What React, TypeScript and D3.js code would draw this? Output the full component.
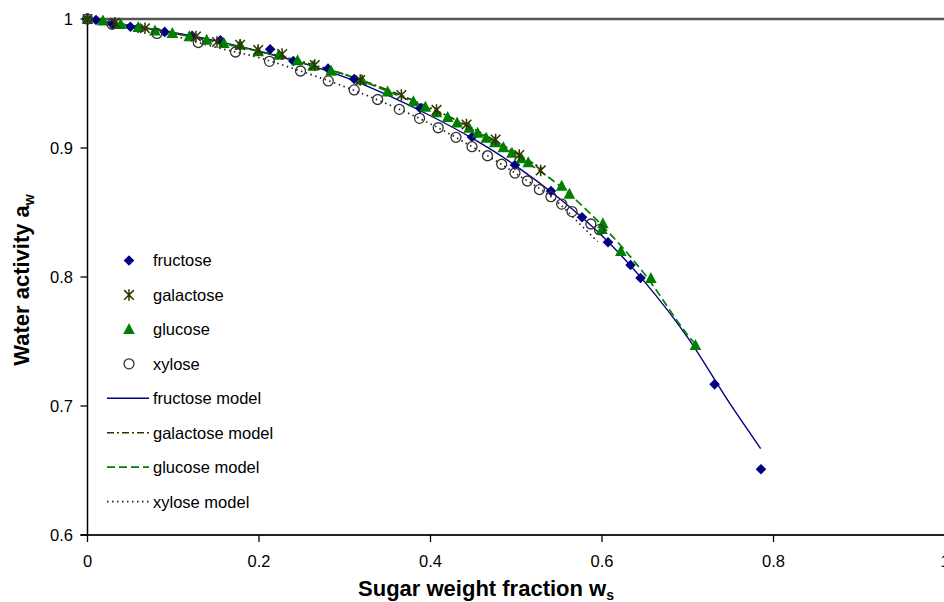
import React from "react";
import * as d3 from "d3";

// ---------- data ----------
const fructose: [number, number][] = [
  [0, 1.0], [0.01, 0.9992], [0.029, 0.996], [0.05, 0.994], [0.059, 0.993],
  [0.09, 0.990], [0.122, 0.987], [0.155, 0.9835], [0.213, 0.9765], [0.24, 0.9675],
  [0.2805, 0.9615], [0.311, 0.9535], [0.388, 0.9308], [0.4484, 0.9085], [0.4985, 0.8868],
  [0.5405, 0.8667], [0.5767, 0.8463], [0.607, 0.8269], [0.6333, 0.8093], [0.6449, 0.7992],
  [0.7313, 0.7168], [0.7854, 0.651],
];
const galactose: [number, number][] = [
  [0, 1.0], [0.032, 0.997], [0.067, 0.9928], [0.1265, 0.9864], [0.151, 0.9822],
  [0.178, 0.98], [0.199, 0.976], [0.227, 0.9729], [0.265, 0.9643], [0.318, 0.9527],
  [0.366, 0.9411], [0.407, 0.9295], [0.442, 0.9182], [0.476, 0.9066], [0.5035, 0.8946],
  [0.5285, 0.8826],
];
const glucose: [number, number][] = [
  [0, 1.0], [0.018, 0.9987], [0.0387, 0.9959], [0.0592, 0.9936], [0.0787, 0.9909],
  [0.0989, 0.9889], [0.1187, 0.9863], [0.139, 0.9837], [0.159, 0.9812], [0.178, 0.9798],
  [0.199, 0.9747], [0.223, 0.9721], [0.245, 0.9678], [0.263, 0.9636], [0.284, 0.9597],
  [0.32, 0.9527], [0.35, 0.9436], [0.38, 0.936], [0.394, 0.9318], [0.407, 0.9274],
  [0.42, 0.9238], [0.431, 0.9196], [0.445, 0.9155], [0.455, 0.9116], [0.465, 0.9078],
  [0.475, 0.9043], [0.485, 0.9004], [0.495, 0.8961], [0.506, 0.8919], [0.514, 0.8888],
  [0.553, 0.8705], [0.562, 0.8643], [0.601, 0.8415], [0.600, 0.837], [0.622, 0.820],
  [0.657, 0.799], [0.709, 0.747],
];
const xylose: [number, number][] = [
  [0, 1.0], [0.0286, 0.9959], [0.081, 0.9888], [0.1292, 0.9818], [0.1726, 0.9744],
  [0.2122, 0.9672], [0.2484, 0.9597], [0.2808, 0.952], [0.311, 0.945], [0.3384, 0.9376],
  [0.3636, 0.93], [0.3872, 0.923], [0.409, 0.9157], [0.4297, 0.9083], [0.4484, 0.901],
  [0.4665, 0.894], [0.483, 0.8874], [0.4985, 0.8806], [0.513, 0.8744], [0.527, 0.8678],
  [0.5405, 0.8623], [0.553, 0.8565], [0.565, 0.8507], [0.587, 0.8411], [0.597, 0.8367],
];

const fructoseModel: [number, number][] = [
  [0, 1.0], [0.05, 0.995], [0.1, 0.9895], [0.15, 0.983], [0.2, 0.975], [0.25, 0.966],
  [0.3, 0.955], [0.35, 0.941], [0.4, 0.925], [0.45, 0.907], [0.5, 0.886], [0.55, 0.861],
  [0.6, 0.832], [0.65, 0.796], [0.7, 0.753], [0.75, 0.701], [0.785, 0.667],
];
const galactoseModel: [number, number][] = [
  [0, 1.0], [0.05, 0.995], [0.1, 0.989], [0.15, 0.982], [0.2, 0.975], [0.25, 0.967],
  [0.3, 0.957], [0.35, 0.945], [0.4, 0.931], [0.45, 0.915], [0.5, 0.896], [0.53, 0.884],
];
const glucoseModel: [number, number][] = [
  [0, 1.0], [0.05, 0.995], [0.1, 0.989], [0.15, 0.982], [0.2, 0.975], [0.25, 0.966],
  [0.3, 0.957], [0.35, 0.944], [0.4, 0.93], [0.45, 0.914], [0.5, 0.894], [0.55, 0.871],
  [0.6, 0.840], [0.65, 0.802], [0.7, 0.755], [0.71, 0.747],
];
const xyloseModel: [number, number][] = [
  [0, 1.0], [0.05, 0.994], [0.1, 0.987], [0.15, 0.978], [0.2, 0.97], [0.25, 0.9593],
  [0.3, 0.9475], [0.35, 0.934], [0.4, 0.9187], [0.45, 0.9005], [0.5, 0.88], [0.55, 0.857],
  [0.575, 0.8405], [0.595, 0.8274],
];

const xTicks = [0, 0.2, 0.4, 0.6, 0.8, 1];
const xTickLabels = ["0", "0.2", "0.4", "0.6", "0.8", "1"];
const yTicks = [0.6, 0.7, 0.8, 0.9, 1];
const yTickLabels = ["0.6", "0.7", "0.8", "0.9", "1"];
const legendLabels = [
  "fructose", "galactose", "glucose", "xylose",
  "fructose model", "galactose model", "glucose model", "xylose model",
];

// ---------- styles ----------
const NAVY = "#000080";
const OLIVE = "#333300";
const GREEN = "#008000";
const GREY = "#333333";
const FONT = "Arial, 'Liberation Sans', sans-serif";

const x = d3.scaleLinear().domain([0, 1]).range([87.5, 945]);
const y = d3.scaleLinear().domain([0.6, 1]).range([535, 19]);

const line = d3
  .line<[number, number]>()
  .x((d) => x(d[0]))
  .y((d) => y(d[1]))
  .curve(d3.curveMonotoneX);

const Diamond = ({ cx, cy }: { cx: number; cy: number }) => (
  <path d={`M${cx},${cy - 5.3}L${cx + 5.3},${cy}L${cx},${cy + 5.3}L${cx - 5.3},${cy}Z`} fill={NAVY} />
);
const Triangle = ({ cx, cy }: { cx: number; cy: number }) => (
  <path d={`M${cx},${cy - 6.3}L${cx + 5.8},${cy + 4.7}L${cx - 5.8},${cy + 4.7}Z`} fill={GREEN} />
);
const Star = ({ cx, cy }: { cx: number; cy: number }) => (
  <path
    d={`M${cx - 4.8},${cy - 4.8}L${cx + 4.8},${cy + 4.8}M${cx + 4.8},${cy - 4.8}L${cx - 4.8},${cy + 4.8}M${cx},${cy - 5.8}L${cx},${cy + 5.8}`}
    stroke={OLIVE}
    strokeWidth={1.5}
    fill="none"
  />
);
const Circle = ({ cx, cy }: { cx: number; cy: number }) => (
  <circle cx={cx} cy={cy} r={5} fill="none" stroke={GREY} strokeWidth={1.3} />
);

const lineStyles = [
  { stroke: NAVY, dash: undefined as string | undefined, width: 1.4 },
  { stroke: OLIVE, dash: "7,3,2,3", width: 1.7 },
  { stroke: GREEN, dash: "8,4", width: 1.7 },
  { stroke: "#222222", dash: "1.5,3.5", width: 1.7 },
];
const models = [fructoseModel, galactoseModel, glucoseModel, xyloseModel];

export default function App() {
  const legendY = (i: number) => 260.5 + i * 34.45;
  return (
    <svg
      width={944}
      height={602}
      style={{ position: "absolute", left: 0, top: 0, display: "block", background: "#fff" }}
      fontFamily={FONT}
    >
      <rect x={0} y={0} width={944} height={602} fill="#fff" />
      {/* frame */}
      <line x1={x(0)} x2={x(1)} y1={y(1)} y2={y(1)} stroke="#555" strokeWidth={2.3} />
      <line x1={x(0)} x2={x(0)} y1={y(1)} y2={y(0.6)} stroke="#000" strokeWidth={1.5} />
      <line x1={x(0) - 7} x2={x(1)} y1={y(0.6)} y2={y(0.6)} stroke="#222" strokeWidth={2.2} />
      {/* y ticks */}
      {yTicks.map((t, i) => (
        <g key={"yt" + i}>
          <line x1={x(0) - 7} x2={x(0)} y1={y(t)} y2={y(t)} stroke="#000" strokeWidth={1.3} />
          <text x={73} y={y(t)} dy="0.36em" textAnchor="end" fontSize={16.5} fill="#000">
            {yTickLabels[i]}
          </text>
        </g>
      ))}
      {/* x ticks */}
      {xTicks.map((t, i) => (
        <g key={"xt" + i}>
          <line x1={x(t)} x2={x(t)} y1={y(0.6)} y2={y(0.6) + 7} stroke="#000" strokeWidth={1.3} />
          <text x={x(t)} y={567} textAnchor="middle" fontSize={16.5} fill="#000">
            {xTickLabels[i]}
          </text>
        </g>
      ))}
      {/* model curves */}
      {models.map((m, i) => (
        <path
          key={"m" + i}
          d={line(m) || ""}
          fill="none"
          stroke={lineStyles[i].stroke}
          strokeWidth={lineStyles[i].width}
          strokeDasharray={lineStyles[i].dash}
        />
      ))}
      {/* data markers */}
      {fructose.map((d, i) => (
        <Diamond key={"f" + i} cx={x(d[0])} cy={y(d[1])} />
      ))}
      {glucose.map((d, i) => (
        <Triangle key={"g" + i} cx={x(d[0])} cy={y(d[1])} />
      ))}
      {galactose.map((d, i) => (
        <Star key={"ga" + i} cx={x(d[0])} cy={y(d[1])} />
      ))}
      {xylose.map((d, i) => (
        <Circle key={"x" + i} cx={x(d[0])} cy={y(d[1])} />
      ))}
      {/* legend */}
      <Diamond cx={129} cy={legendY(0)} />
      <Star cx={129} cy={legendY(1)} />
      <Triangle cx={129} cy={legendY(2)} />
      <Circle cx={129} cy={legendY(3)} />
      {[0, 1, 2, 3].map((i) => (
        <line
          key={"ll" + i}
          x1={107}
          x2={149}
          y1={legendY(4 + i)}
          y2={legendY(4 + i)}
          stroke={lineStyles[i].stroke}
          strokeWidth={lineStyles[i].width}
          strokeDasharray={lineStyles[i].dash}
        />
      ))}
      {legendLabels.map((l, i) => (
        <text key={"lt" + i} x={153} y={legendY(i)} dy="0.36em" fontSize={16.5} fill="#000">
          {l}
        </text>
      ))}
      {/* axis titles */}
      <text
        transform={`translate(29,${280}) rotate(-90)`}
        textAnchor="middle"
        fontSize={22}
        fontWeight="bold"
        fill="#000"
      >
        Water activity a<tspan fontSize={14} dy={5}>w</tspan>
      </text>
      <text x={486} y={596} textAnchor="middle" fontSize={22} fontWeight="bold" fill="#000">
        Sugar weight fraction w<tspan fontSize={14} dy={4}>s</tspan>
      </text>
    </svg>
  );
}
